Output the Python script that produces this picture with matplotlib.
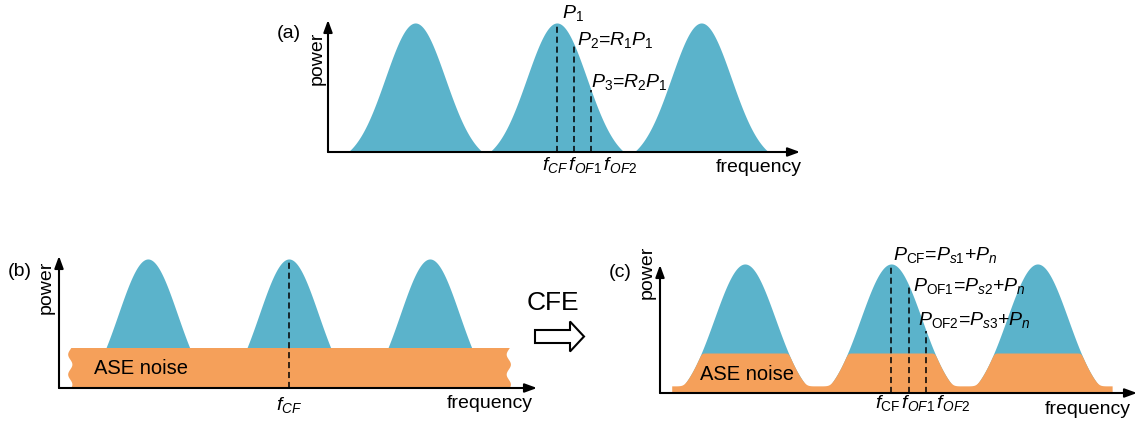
import numpy as np
import matplotlib.pyplot as plt
from matplotlib.patches import FancyArrow, Polygon

plt.rcParams['font.family'] = 'Liberation Sans'
plt.rcParams['mathtext.fontset'] = 'custom'
plt.rcParams['mathtext.rm'] = 'Liberation Sans'
plt.rcParams['mathtext.it'] = 'Liberation Sans:italic'
plt.rcParams['mathtext.bf'] = 'Liberation Sans:bold'

BLUE = '#5BB3CB'
ORANGE = '#F5A05A'

# channel centres, in units of channel spacing, for each panel
centers_a = [0.61, 1.60, 2.61]
centers_b = [0.63, 1.63, 2.63]
centers_c = [0.58, 1.58, 2.58]
sigma = 0.21       # width of the gaussian channel shape
cutoff = 0.47      # channel is truncated to zero beyond this
peak_power = 1.0

# filter frequencies relative to the middle channel centre (CF, OF1, OF2)
filter_offsets = [0.0, 0.12, 0.24]

# ASE noise
noise_level_b = 0.31
noise_span_b = [0.08, 3.19]
noise_floor_c = 0.055
noise_plateau_c = 0.31
noise_span_c = [0.08, 3.09]

labels_a = [r'$P_1$', r'$P_2$=$R_1P_1$', r'$P_3$=$R_2P_1$']
labels_c = [r'$P_{\mathrm{CF}}$=$P_{s1}$+$P_n$',
            r'$P_{\mathrm{OF1}}$=$P_{s2}$+$P_n$',
            r'$P_{\mathrm{OF2}}$=$P_{s3}$+$P_n$']


def channel(x, c, s=sigma, w=cutoff, h=peak_power):
    d = np.clip(np.abs(x - c), 0, w)
    edge = np.exp(-w**2 / (2 * s**2))
    return h * (np.exp(-d**2 / (2 * s**2)) - edge) / (1 - edge)


def spectrum(x, centers):
    return sum(channel(x, c) for c in centers)


def axis_arrows(ax):
    kw = dict(arrowstyle='-|>,head_length=0.6,head_width=0.22', color='black',
              lw=1.5, shrinkA=0, shrinkB=0, mutation_scale=12)
    ax.annotate('', xy=(1, 0), xytext=(0, 0), xycoords='axes fraction', arrowprops=kw)
    ax.annotate('', xy=(0, 1), xytext=(0, 0), xycoords='axes fraction', arrowprops=kw)


def axis_text(ax, name, ypow, ylab, dxpow, dxlab, dxfreq):
    ax.annotate('power', xy=(0, ypow), xycoords='axes fraction', xytext=(dxpow, 0),
                textcoords='offset pixels', rotation=90, ha='center', va='center', fontsize=14)
    ax.annotate(name, xy=(0, ylab), xycoords='axes fraction', xytext=(dxlab, 0),
                textcoords='offset pixels', ha='center', va='center', fontsize=14)
    ax.annotate('frequency', xy=(1, 0), xycoords='axes fraction', xytext=(dxfreq, -16),
                textcoords='offset pixels', ha='right', va='center', fontsize=14)


def dashed(ax, fx, top):
    ax.plot([fx, fx], [0, top], color='black', lw=1.1, dashes=(4, 2.5), zorder=3,
            clip_on=False)


W, H = 1141, 424
fig = plt.figure(figsize=(W / 100, H / 100), dpi=100)


def panel(left, right, base, top):
    return fig.add_axes([left / W, (H - base) / H, (right - left) / W, (base - top) / H])


# ---------------- (a)
ax = panel(328, 800, 152, 20)
ax.set_xlim(0, 3.30)
ax.set_ylim(0, 1.023)
ax.axis('off')
x = np.linspace(0, 3.30, 2000)
ax.fill_between(x, 0, spectrum(x, centers_a), color=BLUE, lw=0, zorder=1)
offs_a = [(5, 10), (3, 4), (0, 8)]
for off, lab, d in zip(filter_offsets, labels_a, offs_a):
    fx = centers_a[1] + off
    top = channel(fx, centers_a[1])
    dashed(ax, fx, top)
    ax.annotate(lab, xy=(fx, top), xytext=d, textcoords='offset pixels',
                ha='left', va='center', fontsize=14, annotation_clip=False)
ax.annotate(r'$f_{CF}\,f_{OF1}\,f_{OF2}$', xy=(centers_a[1], 0), xytext=(-15, -13),
            textcoords='offset pixels', ha='left', va='center', fontsize=14)
axis_arrows(ax)
axis_text(ax, '(a)', 0.71, 0.90, -11, -39, 2)

# ---------------- (b)
ax = panel(59, 537, 388, 256)
ax.set_xlim(0, 3.39)
ax.set_ylim(0, 1.023)
ax.axis('off')
x = np.linspace(0, 3.39, 2000)
ax.fill_between(x, 0, spectrum(x, centers_b), color=BLUE, lw=0, zorder=1)
yy = np.linspace(0, noise_level_b, 60)
wave = 0.015 * np.sin(2 * np.pi * yy / noise_level_b * 2.0 + 0.5)
pts = np.vstack([np.column_stack([noise_span_b[1] + wave, yy]),
                 np.column_stack([(noise_span_b[0] + wave)[::-1], yy[::-1]])])
ax.add_patch(Polygon(pts, closed=True, fc=ORANGE, ec='none', zorder=2))
dashed(ax, centers_b[1], channel(centers_b[1], centers_b[1]))
ax.text(0.25, 0.155, 'ASE noise', ha='left', va='center', fontsize=14.5, zorder=4)
ax.annotate(r'$f_{CF}$', xy=(centers_b[1], 0), xytext=(0, -17),
            textcoords='offset pixels', ha='center', va='center', fontsize=14)
axis_arrows(ax)
axis_text(ax, '(b)', 0.765, 0.88, -13, -39, -4)

# ---------------- (c)
ax = panel(660, 1137, 393, 265)
ax.set_xlim(0, 3.26)
ax.set_ylim(0, 0.992)
ax.axis('off')
x = np.linspace(0, 3.26, 2000)
ax.fill_between(x, 0, spectrum(x, centers_c), color=BLUE, lw=0, zorder=1, clip_on=False)
xn = np.linspace(noise_span_c[0], noise_span_c[1], 2000)
k = 0.015
sm = -k * np.logaddexp(-spectrum(xn, centers_c) / k, -noise_plateau_c / k)
noise = k * np.logaddexp(sm / k, noise_floor_c / k)
ax.fill_between(xn, 0, noise, color=ORANGE, lw=0, zorder=2)
offs_c = [(2, 9), (4, -1), (-8, 11)]
for off, lab, d in zip(filter_offsets, labels_c, offs_c):
    fx = centers_c[1] + off
    top = channel(fx, centers_c[1])
    dashed(ax, fx, top)
    ax.annotate(lab, xy=(fx, top), xytext=d, textcoords='offset pixels',
                ha='left', va='center', fontsize=14, annotation_clip=False)
ax.annotate(r'$f_{\mathrm{CF}}\,f_{OF1}\,f_{OF2}$', xy=(centers_c[1], 0), xytext=(-16, -10),
            textcoords='offset pixels', ha='left', va='center', fontsize=14)
ax.text(0.27, 0.14, 'ASE noise', ha='left', va='center', fontsize=14.5, zorder=4)
axis_arrows(ax)
axis_text(ax, '(c)', 0.94, 0.94, -13, -40, -6)

# ---------------- CFE arrow between (b) and (c)
ov = fig.add_axes([0, 0, 1, 1])
ov.set_xlim(0, W)
ov.set_ylim(H, 0)
ov.axis('off')
ov.text(553, 303, 'CFE', ha='center', va='center', fontsize=19)
ov.add_patch(FancyArrow(535, 336.5, 49, 0, width=13, head_width=30, head_length=14,
                        length_includes_head=True, fc='white', ec='black', lw=1.5))

fig.savefig('out.png', dpi=100)
